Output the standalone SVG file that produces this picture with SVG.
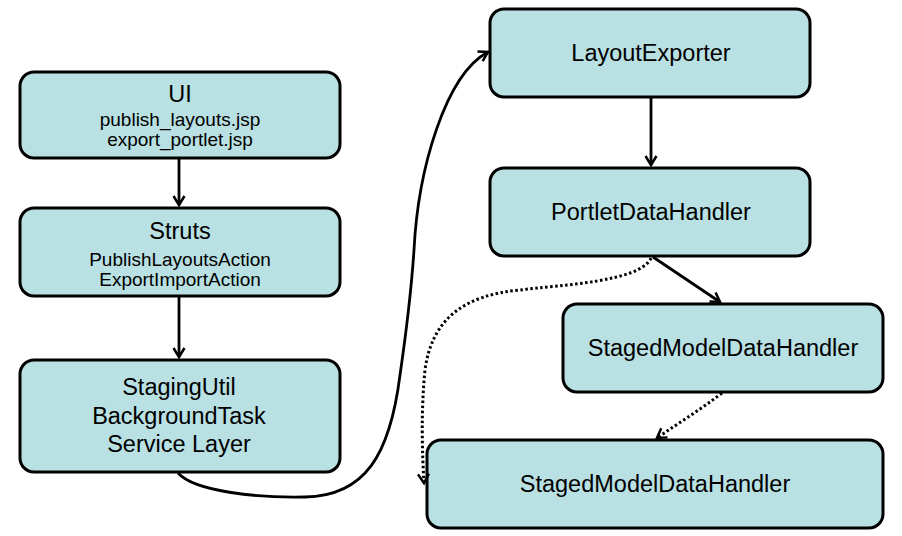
<svg xmlns="http://www.w3.org/2000/svg" width="902" height="536" viewBox="0 0 902 536">
<defs>
<marker id="arr" viewBox="0 0 14 14" refX="11" refY="7" markerWidth="14" markerHeight="14" markerUnits="userSpaceOnUse" orient="auto">
<path d="M2,1.5 L11,7 L2,12.5" fill="none" stroke="#000" stroke-width="2.5"/>
</marker>
</defs>
<style>
.box{fill:#b9e0e3;stroke:#000;stroke-width:3}
.t{font-family:"Liberation Sans",Arial,sans-serif;text-anchor:middle;fill:#000}
.big{font-size:23.5px}
.small{font-size:19px}
.c{fill:none;stroke:#000;stroke-width:2.8}
.d{fill:none;stroke:#000;stroke-width:3;stroke-dasharray:2.5 2.5}
</style>
<rect width="902" height="536" fill="#fff"/>
<g id="ui">
<rect class="box" x="20" y="72" width="320" height="86" rx="14"/>
<text class="t big" x="180" y="102">UI</text>
<text class="t small" x="180" y="126">publish_layouts.jsp</text>
<text class="t small" x="180" y="146">export_portlet.jsp</text>
</g>
<g id="struts">
<rect class="box" x="20" y="208" width="320" height="88" rx="14"/>
<text class="t big" x="180" y="239">Struts</text>
<text class="t small" x="180" y="266">PublishLayoutsAction</text>
<text class="t small" x="180" y="286">ExportImportAction</text>
</g>
<g id="staging">
<rect class="box" x="20" y="360" width="320" height="112" rx="14"/>
<text class="t big" x="179" y="395">StagingUtil</text>
<text class="t big" x="179" y="424">BackgroundTask</text>
<text class="t big" x="179" y="452">Service Layer</text>
</g>
<g id="layoutExporter">
<rect class="box" x="490" y="9" width="320" height="88" rx="14"/>
<text class="t big" x="651" y="61">LayoutExporter</text>
</g>
<g id="portletDataHandler">
<rect class="box" x="490" y="168" width="320" height="88" rx="14"/>
<text class="t big" x="651" y="220">PortletDataHandler</text>
</g>
<g id="smdh1">
<rect class="box" x="563" y="304" width="320" height="88" rx="14"/>
<text class="t big" x="723" y="356">StagedModelDataHandler</text>
</g>
<g id="smdh2">
<rect class="box" x="427" y="440" width="456" height="88" rx="14"/>
<text class="t big" x="655" y="492">StagedModelDataHandler</text>
</g>
<g id="connectors">
<path class="c" d="M179,158 L179,205" marker-end="url(#arr)"/>
<path class="c" d="M179,296 L179,357" marker-end="url(#arr)"/>
<path class="c" d="M178,473 C195,492 260,498 305,497 C365,496 390,455 400,375 C408,320 412,280 414,250 C418,170 445,75 488,52" marker-end="url(#arr)"/>
<path class="c" d="M651,97 L651,165" marker-end="url(#arr)"/>
<path class="c" d="M653,257 L720,302" marker-end="url(#arr)"/>
<path class="d" d="M651,258 C640,282 560,285 520,290 C465,295 432,318 425,370 C421,410 422,450 424,483" marker-end="url(#arr)"/>
<path class="d" d="M722,393 C700,410 680,422 657,438" marker-end="url(#arr)"/>
</g>
</svg>
